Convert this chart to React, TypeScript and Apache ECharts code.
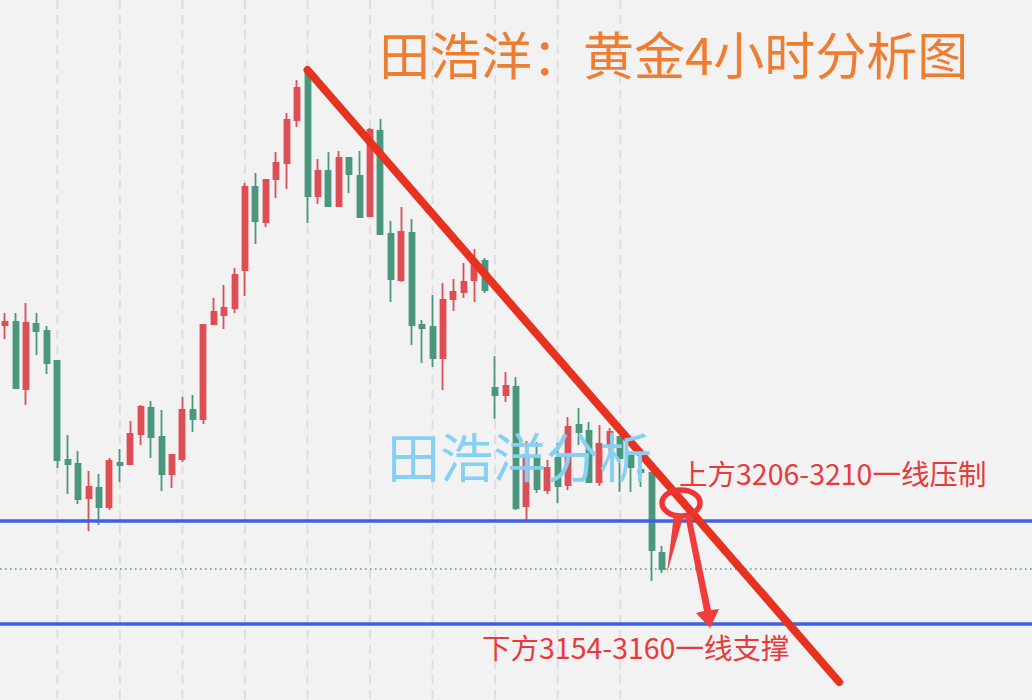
import React, { useEffect, useRef } from "react";
import * as echarts from "echarts";

// 4-hour gold bars, oldest first: open / close / low / high
const opens = [
  3304, 3305.5, 3272, 3304.5, 3301, 3286, 3236.5, 3234.5, 3217.5, 3222.5,
  3213, 3235, 3234.5, 3249.5, 3262.5, 3248, 3229.5, 3237, 3261.5, 3257,
  3304.5, 3309, 3312.5, 3331.5, 3373, 3355.5, 3377, 3385, 3406.5, 3430,
  3368.5, 3381, 3363.5, 3387.5, 3378.5, 3358.5, 3401, 3349.5, 3326.5, 3350,
  3304, 3303, 3287.5, 3317, 3320.5, 3326.5, 3336, 3272.5, 3269, 3273,
  3213.5, 3238.5, 3221.5, 3237.5, 3224, 3254, 3251, 3225.5, 3244, 3248,
  3239.5, 3231.5, 3230, 3190,
];
const closes = [
  3305.5, 3272.5, 3305, 3301, 3285, 3236.5, 3234.5, 3217, 3223, 3213,
  3236, 3234, 3249.5, 3263, 3248, 3229.5, 3239, 3261.5, 3257, 3304,
  3310.5, 3312.5, 3329, 3373, 3356, 3376.5, 3385, 3406.5, 3422.5, 3368.5,
  3381, 3363.5, 3387.5, 3379.5, 3358, 3401.5, 3349.5, 3327, 3350.5, 3304,
  3302.5, 3287.5, 3316.5, 3320.5, 3325.5, 3335.5, 3321.5, 3269, 3273.5, 3212.5,
  3239, 3222, 3232.5, 3223.5, 3253, 3250.5, 3225.5, 3244.5, 3250.5, 3237.5,
  3233, 3230.5, 3191.5, 3182,
];
const lows = [
  3297, 3272, 3264, 3289, 3279.5, 3232.5, 3219.5, 3214.5, 3201, 3204,
  3211.5, 3225.5, 3234, 3244, 3237.5, 3221, 3222.5, 3235.5, 3250.5, 3254.5,
  3304.5, 3302, 3310, 3318.5, 3344.5, 3353, 3367.5, 3372, 3403, 3355,
  3364.5, 3363.5, 3363, 3370, 3358, 3358.5, 3349.5, 3315.5, 3325.5, 3294,
  3285, 3283, 3271.5, 3311, 3317.5, 3315.5, 3320, 3257, 3265.5, 3211.5,
  3206.5, 3220, 3219.5, 3215, 3221.5, 3244, 3225.5, 3223.5, 3240.5, 3220.5,
  3220.5, 3223, 3176, 3180,
];
const highs = [
  3310, 3310, 3315, 3310, 3303.5, 3286.5, 3249, 3241, 3231, 3229.5,
  3237.5, 3242, 3256, 3264, 3266, 3261.5, 3239, 3268, 3269, 3304.5,
  3317.5, 3324, 3332.5, 3375, 3380, 3376.5, 3390.5, 3410, 3426.5, 3431,
  3387, 3390.5, 3391, 3387.5, 3391, 3402.5, 3407, 3356, 3363, 3357,
  3306.5, 3319, 3325, 3327, 3335, 3342, 3337.5, 3288.5, 3280.5, 3278,
  3246, 3245.5, 3236.5, 3245, 3258, 3262.5, 3255.5, 3254, 3252.5, 3248.5,
  3240.5, 3236.5, 3230, 3193.5,
];

// time slots on the x axis (bars plus empty room on the right)
const slots = Array.from({ length: 99 }, (_, i) => `K${i + 1}`);
// first bar of each trading day, where the dashed separators go
const dayStarts = [5, 11, 17, 23, 29, 35, 41, 47, 53, 59];

// price window and key levels
const priceMin = 3116.5;
const priceMax = 3466.5;
const resistance = 3206;
const support = 3154.5;
const lastClose = closes[closes.length - 1];

// descending trend line: [slot index, price]
const trendFrom = [29, 3431.5];
const trendTo = [80, 3125.5];

const TITLE = "田浩洋：黄金4小时分析图";
const WATERMARK = "田浩洋分析";
const NOTE_UP = "上方3206-3210一线压制";
const NOTE_DOWN = "下方3154-3160一线支撑";

const UP = "#de4e55";
const DOWN = "#4a977d";
const CJK = '"Noto Sans CJK SC", "Noto Sans", sans-serif';

export default function App() {
  const ref = useRef<HTMLDivElement>(null);

  useEffect(() => {
    if (!ref.current) return;
    const chart = echarts.init(ref.current, null, { renderer: "svg" });

    const data = opens.map((o, i) => [o, closes[i], lows[i], highs[i]]);

    chart.setOption({
      animation: false,
      backgroundColor: "#f2f2f2",
      grid: { left: 0, right: -5, top: 0, bottom: 0 },
      xAxis: {
        type: "category",
        data: slots,
        show: false,
        boundaryGap: true,
        splitLine: { show: false },
      },
      yAxis: {
        type: "value",
        min: priceMin,
        max: priceMax,
        show: false,
        splitLine: { show: false },
      },
      series: [
        {
          type: "candlestick",
          data,
          barWidth: 5.5,
          itemStyle: {
            color: UP,
            color0: DOWN,
            borderColor: UP,
            borderColor0: DOWN,
            borderWidth: 1.8,
          },
          markLine: {
            silent: true,
            symbol: ["none", "none"],
            label: { show: false },
            emphasis: { disabled: true },
            data: [
              { yAxis: resistance, lineStyle: { color: "#3e60e6", width: 3.5, type: "solid" } },
              { yAxis: support, lineStyle: { color: "#3e60e6", width: 3.5, type: "solid" } },
              { yAxis: lastClose, lineStyle: { color: "#3f9a7c", width: 1.5, type: [1.5, 3.5] } },
              [
                {
                  coord: [slots[trendFrom[0]], trendFrom[1]],
                  lineStyle: { color: "#e6321f", width: 8, type: "solid", cap: "round" },
                },
                { coord: [slots[trendTo[0]], trendTo[1]] },
              ],
            ],
          },
        },
      ],
    });

    // dashed day separators, placed through the category axis
    const separators = dayStarts.map((i) => {
      const x = chart.convertToPixel({ xAxisIndex: 0 }, slots[i]) as number;
      return {
        type: "line",
        z: 0,
        silent: true,
        shape: { x1: x, y1: 0, x2: x, y2: 700 },
        style: { stroke: "#dcdee2", lineWidth: 2, lineDash: [9, 6] },
      };
    });

    const noteColor = "#e8393b";
    const annotations = [
      {
        type: "text",
        z: 50,
        silent: true,
        x: 379,
        y: 53,
        style: { text: TITLE, fill: "#ee7d32", font: `51px ${CJK}`, align: "left", verticalAlign: "middle" },
      },
      {
        type: "text",
        z: 50,
        silent: true,
        x: 387,
        y: 455,
        style: { text: WATERMARK, fill: "#86d0f4", font: `53px ${CJK}`, align: "left", verticalAlign: "middle" },
      },
      {
        type: "text",
        z: 50,
        silent: true,
        x: 679,
        y: 472,
        style: { text: NOTE_UP, fill: noteColor, font: `28.5px ${CJK}`, align: "left", verticalAlign: "middle" },
      },
      {
        type: "text",
        z: 50,
        silent: true,
        x: 482,
        y: 646,
        style: { text: NOTE_DOWN, fill: noteColor, font: `28.5px ${CJK}`, align: "left", verticalAlign: "middle" },
      },
      {
        type: "ellipse",
        z: 50,
        silent: true,
        shape: { cx: 681, cy: 503, rx: 19, ry: 13 },
        style: { fill: "none", stroke: "#ee3535", lineWidth: 5.5 },
      },
      {
        type: "polygon",
        z: 50,
        silent: true,
        shape: { points: [[667, 573], [674, 514], [684, 514]] },
        style: { fill: "#f03c3c" },
      },
      {
        type: "polygon",
        z: 50,
        silent: true,
        shape: {
          points: [
            [685, 515], [691, 515], [711, 610], [719, 609], [710, 628], [696, 613], [704, 611],
          ],
        },
        style: { fill: "#f03c3c" },
      },
    ];

    chart.setOption({ graphic: [...separators, ...annotations] });

    return () => chart.dispose();
  }, []);

  return (
    <div
      ref={ref}
      style={{ position: "fixed", left: 0, top: 0, width: 1032, height: 700 }}
    />
  );
}
